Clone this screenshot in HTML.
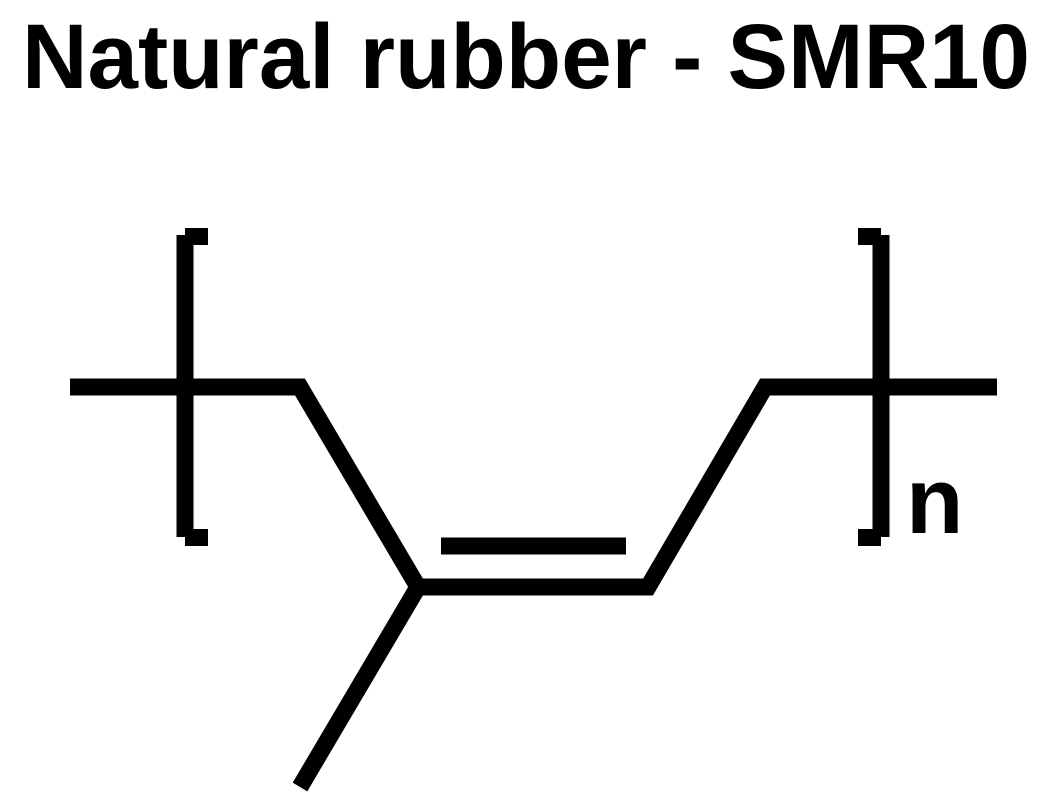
<!DOCTYPE html>
<html><head><meta charset="utf-8"><style>
html,body{margin:0;padding:0;background:#fff;}
svg{display:block;}
</style></head><body>
<svg width="1059" height="808" viewBox="0 0 1059 808" xmlns="http://www.w3.org/2000/svg">
<text x="22" y="88" font-family="Liberation Sans, sans-serif" font-weight="bold" font-size="92" textLength="1008" lengthAdjust="spacingAndGlyphs" fill="#000">Natural rubber - SMR10</text>
<g stroke="#000" stroke-width="17" fill="none" stroke-linejoin="miter" stroke-linecap="butt">
<polyline points="70,387 300,387 418,587 648,587 765,387 997,387"/>
<line x1="418" y1="587" x2="300" y2="787"/>
<line x1="441" y1="546" x2="626" y2="546"/>
<line x1="185" y1="235" x2="185" y2="537"/>
<line x1="881" y1="235" x2="881" y2="537"/>
</g>
<rect x="185" y="228" width="23" height="17" fill="#000"/>
<rect x="185" y="529" width="23" height="17" fill="#000"/>
<rect x="858" y="228" width="23" height="17" fill="#000"/>
<rect x="858" y="529" width="23" height="17" fill="#000"/>
<text x="906" y="533" font-family="Liberation Sans, sans-serif" font-weight="bold" font-size="94" fill="#000">n</text>
</svg>
</body></html>
